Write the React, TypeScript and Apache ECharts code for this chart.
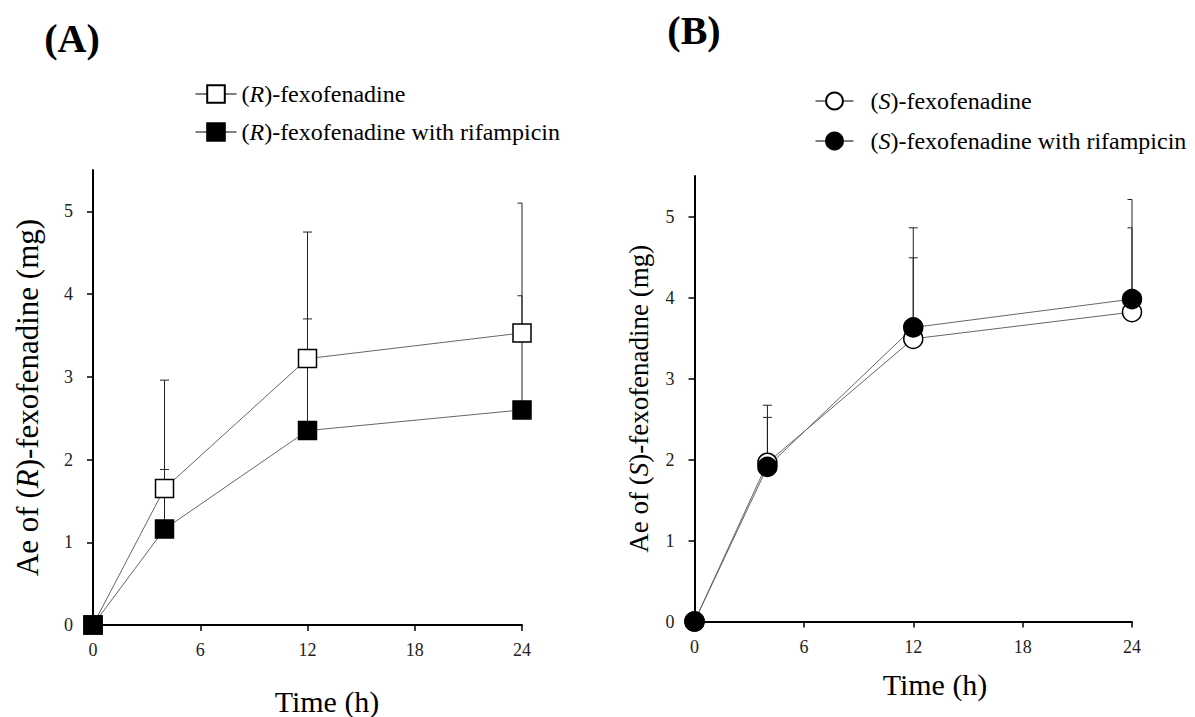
import React, { useEffect, useRef } from 'react';
import * as echarts from 'echarts';

// Sampling times (h) and axis ticks
const hours = [0, 4, 12, 24];
const xTicks = [0, 6, 12, 18, 24];
const yTicks = [0, 1, 2, 3, 4, 5];

// Series names
const rLabel = '(R)-fexofenadine';
const rRifLabel = '(R)-fexofenadine with rifampicin';
const sLabel = '(S)-fexofenadine';
const sRifLabel = '(S)-fexofenadine with rifampicin';

// Cumulative urinary excretion (mg): means and mean + SD
const rMean = [0, 1.65, 3.22, 3.53];
const rUpper = [0, 2.96, 4.75, 5.1];
const rRifMean = [0, 1.16, 2.35, 2.6];
const rRifUpper = [0, 1.88, 3.7, 3.98];

const sMean = [0, 1.96, 3.49, 3.82];
const sUpper = [0, 2.52, 4.49, 4.86];
const sRifMean = [0, 1.91, 3.63, 3.98];
const sRifUpper = [0, 2.67, 4.86, 5.21];

const SERIF = "'Liberation Serif', 'Times New Roman', serif";

const pairs = (ys: number[]) => hours.map((h, i) => [h, ys[i]]);
const errData = (means: number[], uppers: number[]) =>
  hours.map((h, i) => [h, means[i], uppers[i]]).filter((d) => d[2] > d[1]);

// Upward SD bar with a cap, clipped to the plot area
const renderErr = (params: any, api: any) => {
  const base = api.coord([api.value(0), api.value(1)]);
  const top = api.coord([api.value(0), api.value(2)]);
  const cs = params.coordSys;
  const hw = 4.5;
  const style = { stroke: '#222', lineWidth: 1 };
  return {
    type: 'group',
    children: [
      { type: 'line', shape: { x1: base[0], y1: base[1], x2: top[0], y2: top[1] }, style },
      {
        type: 'line',
        shape: {
          x1: Math.max(cs.x, top[0] - hw),
          y1: top[1],
          x2: Math.min(cs.x + cs.width, top[0] + hw),
          y2: top[1],
        },
        style,
      },
    ],
  };
};

const italicName = (name: string) => name.replace(/\((R|S)\)/, '({it|$1})');

const legendRich = {
  it: { fontFamily: SERIF, fontSize: 24, color: '#000', fontStyle: 'italic', lineHeight: 24 },
  gap: { width: 12 },
};

const xAxisBase = (gridIndex: number) => ({
  type: 'value',
  gridIndex,
  min: 0,
  max: 24,
  interval: 6,
  axisLine: { show: true, lineStyle: { color: '#000', width: 2 } },
  axisTick: { show: true, inside: false, length: 6, lineStyle: { color: '#000', width: 1.5 } },
  axisLabel: { fontFamily: SERIF, fontSize: 18, color: '#222', margin: 16, customValues: xTicks },
  splitLine: { show: false },
});

const yAxisBase = (gridIndex: number, name: string, nameSize: number, nameGap: number) => ({
  type: 'value',
  gridIndex,
  min: 0,
  max: 5.5,
  interval: 1,
  name,
  nameLocation: 'middle',
  nameRotate: 90,
  nameGap,
  nameTextStyle: {
    fontFamily: SERIF,
    fontSize: nameSize,
    color: '#000',
    rich: { it: { fontFamily: SERIF, fontSize: nameSize, color: '#000', fontStyle: 'italic' } },
  },
  axisLine: { show: true, onZero: false, lineStyle: { color: '#000', width: 2 } },
  axisTick: { show: true, inside: false, length: 6, lineStyle: { color: '#000', width: 1.5 }, customValues: yTicks },
  axisLabel: { fontFamily: SERIF, fontSize: 18, color: '#222', margin: 20, customValues: yTicks },
  splitLine: { show: false },
});

const lineSeries = (
  name: string,
  ys: number[],
  idx: number,
  symbol: string,
  size: number,
  fill: string
) => ({
  name,
  type: 'line',
  xAxisIndex: idx,
  yAxisIndex: idx,
  data: pairs(ys),
  symbol,
  symbolSize: size,
  showAllSymbol: true,
  z: 3,
  lineStyle: { color: '#666', width: 1 },
  itemStyle: { color: fill, borderColor: '#000', borderWidth: 1.5 },
  emphasis: { disabled: true },
});

const errSeries = (means: number[], uppers: number[], idx: number) => ({
  type: 'custom',
  xAxisIndex: idx,
  yAxisIndex: idx,
  data: errData(means, uppers),
  encode: { x: 0, y: [1, 2] },
  renderItem: renderErr,
  z: 1,
  silent: true,
});

const textEl = (text: string, x: number, y: number, size: number, weight = 'normal') => ({
  type: 'text',
  x,
  y,
  style: {
    text,
    fontFamily: SERIF,
    fontSize: size,
    fontWeight: weight,
    fill: '#000',
    align: 'center',
    verticalAlign: 'middle',
    textAlign: 'center',
    textVerticalAlign: 'middle',
  },
});

export default function App() {
  const ref = useRef<HTMLDivElement>(null);

  useEffect(() => {
    if (!ref.current) return;
    const chart = echarts.init(ref.current, null, { renderer: 'svg' });
    chart.setOption({
      animation: false,
      backgroundColor: '#fff',
      grid: [
        { left: 93, top: 170, width: 429, height: 455 },
        { left: 694.5, top: 176, width: 437.5, height: 445.5 },
      ],
      xAxis: [xAxisBase(0), xAxisBase(1)],
      yAxis: [
        yAxisBase(0, 'Ae of ({it|R})-fexofenadine (mg)', 31, 50),
        yAxisBase(1, 'Ae of ({it|S})-fexofenadine (mg)', 27, 42),
      ],
      legend: [
        {
          data: [rLabel, rRifLabel],
          orient: 'vertical',
          left: 195,
          top: 82,
          padding: 0,
          itemWidth: 41,
          itemHeight: 22,
          itemGap: 14,
          selectedMode: false,
          lineStyle: { color: '#000', width: 1 },
          formatter: (n: string) => italicName(n),
          textStyle: { fontFamily: SERIF, fontSize: 24, color: '#000', lineHeight: 24, rich: legendRich },
        },
        {
          data: [sLabel, sRifLabel],
          orient: 'vertical',
          left: 815,
          top: 89,
          padding: 0,
          itemWidth: 38,
          itemHeight: 21,
          itemGap: 16,
          selectedMode: false,
          lineStyle: { color: '#000', width: 1 },
          formatter: (n: string) => '{gap|}' + italicName(n),
          textStyle: { fontFamily: SERIF, fontSize: 24, color: '#000', lineHeight: 24, rich: legendRich },
        },
      ],
      graphic: [
        textEl('(A)', 72, 38, 40, 'bold'),
        textEl('(B)', 694, 30, 40, 'bold'),
        textEl('Time (h)', 327, 701, 30),
        textEl('Time (h)', 935, 684, 30),
      ],
      series: [
        errSeries(rMean, rUpper, 0),
        errSeries(rRifMean, rRifUpper, 0),
        lineSeries(rLabel, rMean, 0, 'rect', 18, '#fff'),
        lineSeries(rRifLabel, rRifMean, 0, 'rect', 18, '#000'),
        errSeries(sMean, sUpper, 1),
        errSeries(sRifMean, sRifUpper, 1),
        lineSeries(sLabel, sMean, 1, 'circle', 19, '#fff'),
        lineSeries(sRifLabel, sRifMean, 1, 'circle', 19, '#000'),
      ],
    });
    return () => chart.dispose();
  }, []);

  return (
    <div
      ref={ref}
      style={{ position: 'absolute', left: 0, top: 0, width: 1195, height: 717, background: '#fff' }}
    />
  );
}
